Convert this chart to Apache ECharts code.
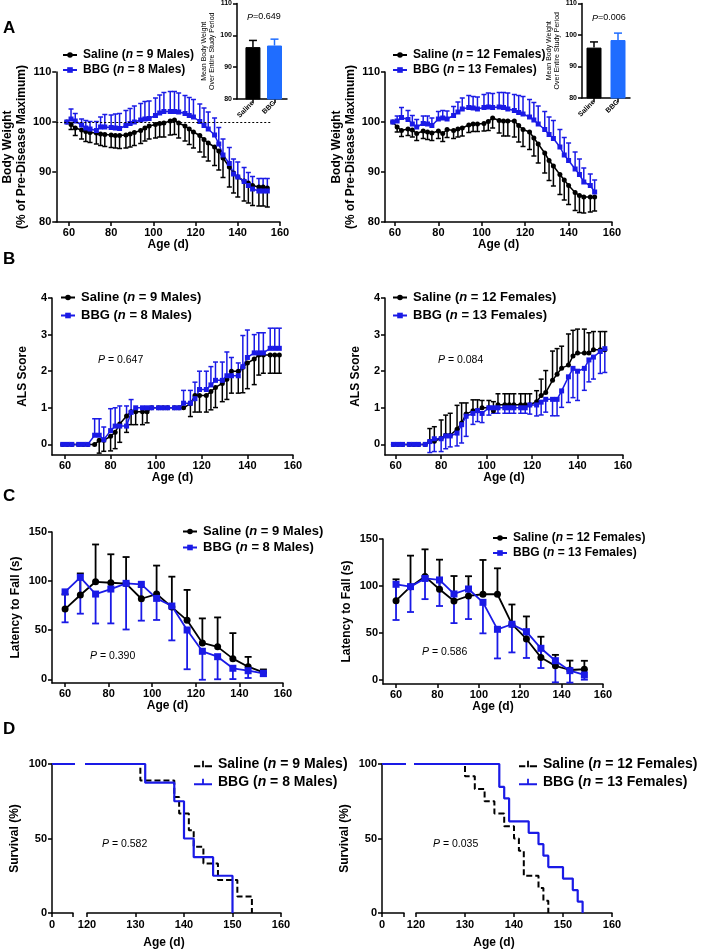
<!DOCTYPE html>
<html>
<head>
<meta charset="utf-8">
<script src="https://cdn.jsdelivr.net/npm/echarts@6/dist/echarts.min.js"></script>
<style>
  html, body { margin: 0; padding: 0; background: #fff; }
  #chart { width: 701px; height: 952px; }
</style>
</head>
<body>
<div id="chart"></div>
<script>
const FONT = '"Liberation Sans", Arial, Helvetica, sans-serif';
const BLACK = '#000000';
const BLUE = '#1a1ae6';
const BAR_BLUE = '#1f6dff';

// ---------- A: body weight (% of pre-disease max) ----------
const bwDaysM = [59,61,63,66,68,70,73,75,77,80,82,84,87,89,91,94,96,98,101,103,105,108,110,112,115,117,119,122,124,126,129,131,133,136,138,140,143,145,147,150,152,154];
const bwSalM = [100,99.5,98.8,98.4,98.1,97.9,97.8,97.6,97.5,97.4,97.3,97.3,97.4,97.6,97.9,98.3,98.8,99.2,99.5,99.7,99.8,100.2,100.4,99.8,99.2,98.6,98,97.3,96.5,95.8,95,94.2,92.8,91,89.8,89,88.2,87.8,87.3,87,87,86.8];
const bwSalMErr = [0,1,1.5,1.8,2,2,2.2,2.3,2.4,2.5,2.5,2.6,2.6,2.6,2.6,2.6,2.6,2.6,2.7,2.7,2.8,2.8,2.9,3,3,3.1,3.2,3.3,3.5,3.6,3.7,3.8,3.9,4,4,4,4,4,4,3.8,3.8,3.8];
const bwBbgM = [100,100.6,100.2,99.4,98.8,98.6,98.3,99,99,98.9,98.8,98.7,99.3,99.7,100,100.4,100.6,100.7,101.3,101.8,102.1,102.1,102.1,102,101.7,101.3,101,100.1,99.3,98.6,97.4,95.6,93.4,91.7,89.6,89,88.1,87.3,86.6,86.2,86.2,86.2];
const bwBbgMErr = [0,2,1.5,1.2,1.5,1.5,1.8,2,2.5,2.5,2.8,3,3,3,3.2,3.3,3.5,3.5,3.5,3.6,3.8,4,4,3.8,3.6,3.6,3.5,3.5,3.5,3.4,3.4,3.3,3.2,3.2,3,3,2.8,2.6,2.5,2.5,2.5,2.5];

const bwDaysF = [59,61,63,66,68,70,73,75,77,80,82,84,87,89,91,94,96,98,101,103,105,108,110,112,115,117,119,122,124,126,129,131,133,136,138,140,143,145,147,150,152];
const bwSalF = [100,99,98.3,98.6,98.4,97.7,98.2,98,97.8,98.2,97.7,98.5,98.3,98.6,98.8,99.4,99.6,99.6,99.7,100.1,100.8,100.3,100.2,100.2,100.2,99.3,98.5,98,96.8,95.6,93.8,92.3,91.2,89.5,88.4,87.3,85.9,85.3,85,85,85];
const bwSalFErr = [0,1,1.2,1.3,1.4,1.4,1.5,1.5,1.5,1.5,1.6,1.6,1.6,1.6,1.6,1.5,1.5,1.5,1.5,1.8,2,2.5,3,3,3.2,3.3,3.4,3.5,3.6,3.8,4,4,4,4,4,3.8,3.6,3.4,3.2,3,2.8];
const bwBbgF = [100,100.2,100.9,100.5,99.6,99,99.7,99.6,99.3,100.6,100.8,100.6,101.3,102,102.6,102.9,102.8,102.6,102.9,103,102.9,103,102.9,102.6,102.3,101.9,101.6,101,100.4,99.6,98.5,97.5,96.7,95,93.4,92.3,90.6,89.5,88,87.3,86];
const bwBbgFErr = [0,1,2,1.8,1.7,1.5,1.5,1.6,1.5,1.5,1.5,1.6,1.8,2,2.2,2.4,2.3,2.4,2.6,2.8,2.8,2.9,3,3.2,3.2,3.4,3.5,3.5,3.5,3.6,3.6,3.5,3.6,3.5,3.5,3.5,3.4,3.1,2.8,2.3,2.4];
const refLevel = 100;
const refSpan = [54, 156];

// inset: mean body weight over entire study period
const insetCats = ['Saline', 'BBG'];
const insetMeanM = [96.3, 96.8];
const insetErrM = [2.1, 2.0];
const insetMeanF = [96.0, 98.4];
const insetErrF = [1.8, 2.2];

// ---------- B: ALS score ----------
const alsSalM = [0,0,0,0,0,0,0,0.111,0.111,0.222,0.333,0.556,0.778,0.889,0.889,0.889,0.889,1,1,1,1,1,1,1,1.111,1.333,1.333,1.333,1.444,1.556,1.667,1.778,2,2,2.111,2.222,2.333,2.444,2.444,2.444,2.444,2.444];
const alsSalMErr = [0,0,0,0,0,0,0,0.35,0.3,0.4,0.45,0.5,0.45,0.35,0.35,0.35,0.3,0,0,0,0,0,0,0,0.35,0.45,0.45,0.45,0.5,0.55,0.5,0.55,0.6,0.6,0.7,0.7,0.7,0.55,0.5,0.5,0.5,0.5];
const alsBbgM = [0,0,0,0,0,0,0.25,0.25,0.125,0.375,0.5,0.5,0.5,0.875,1,1,1,1,1,1,1,1,1,1.125,1.125,1.25,1.5,1.5,1.625,1.75,1.75,1.875,1.875,1.875,2.125,2.375,2.5,2.5,2.5,2.625,2.625,2.625];
const alsBbgMErr = [0,0,0,0,0,0,0.45,0.45,0.35,0.6,0.5,0.55,0.55,0.35,0,0,0,0,0,0,0,0,0,0.35,0.35,0.45,0.5,0.5,0.5,0.5,0.5,0.65,0.5,0.35,0.85,0.75,0.5,0.55,0.55,0.55,0.55,0.55];
const alsSalF = [0,0,0,0,0,0,0,0.083,0.083,0.167,0.25,0.25,0.417,0.583,0.833,0.917,0.917,1,1,0.917,1.083,1.083,1.083,1.083,1.083,1.083,1.083,1.167,1.333,1.417,1.75,1.917,2.083,2.167,2.417,2.5,2.5,2.5,2.583,2.583,2.583];
const alsSalFErr = [0,0,0,0,0,0,0,0.35,0.4,0.5,0.55,0.6,0.65,0.55,0.3,0.3,0.3,0.2,0.2,0.25,0.3,0.3,0.3,0.3,0.3,0.3,0.3,0.3,0.45,0.6,0.8,0.7,0.6,0.85,0.7,0.65,0.65,0.55,0.5,0.5,0.5];
const alsBbgF = [0,0,0,0,0,0,0,0.077,0.154,0.154,0.231,0.231,0.308,0.538,0.769,0.846,0.923,0.846,1,1,1,1,1,1,1,1,1.077,1.077,1.154,1.231,1.231,1.231,1.462,1.846,2.077,2,2.077,2.308,2.385,2.538,2.615];
const alsBbgFErr = [0,0,0,0,0,0,0,0.3,0.35,0.35,0.35,0.3,0.35,0.5,0.55,0.3,0.3,0.25,0.2,0.15,0.15,0.15,0.15,0.15,0.15,0.15,0.25,0.3,0.35,0.35,0.45,0.45,0.45,0.7,0.8,0.8,0.6,0.6,0.6,0.6,0.65];

// ---------- C: rotarod latency to fall ----------
const rrDays = [60,67,74,81,88,95,102,109,116,123,130,137,144,151];
const rrSalM = [71.5,85.8,99.3,98.3,97.5,82,86.8,73.5,60,37,33,21,12.8,7];
const rrSalMErr = [15,22,38,29,27,12,29,31,31,25,30,26,10,3];
const rrBbgM = [89,103.8,86.8,91.9,97.7,96.7,82.4,74.6,50.2,28.5,23,11.2,8.7,6.1];
const rrBbgMErr = [31,37,30,35,47,37,22,35,40,29,23,11,7.4,3];
const rrSalF = [84.4,99.3,110,96.5,84,89.4,91.2,91.2,59.3,43.6,24,15,10.6,11.4];
const rrSalFErr = [22.7,33,29,31.5,26.6,21,36.5,27.6,21,24,22,11.7,10,9];
const rrBbgF = [101.8,99.3,108,106.4,91.5,96.8,82.6,53.9,59.3,51.4,33.7,20.5,9.9,5.3];
const rrBbgFErr = [38,27,22,27.7,31,32,33,31,30,28,21,23,12.7,5];

// ---------- D: survival ----------
const survSalMDays = [0,131,138,139,141,142,144,147,151,154];
const survSalMPct = [100,88.9,77.8,66.7,55.6,44.4,33.3,22.2,11.1,0];
const survBbgMDays = [0,132,138,140,142,146,150];
const survBbgMPct = [100,87.5,75,50,37.5,25,0];
const survSalFDays = [0,130,132,134,136,138,140,141,142,145,146,147];
const survSalFPct = [100,91.7,83.3,75,66.7,58.3,50,41.7,25,16.7,8.3,0];
const survBbgFDays = [0,137,138,139,143,145,146,147,150,152,153,154];
const survBbgFPct = [100,84.6,76.9,61.5,53.8,46.2,38.5,30.8,23.1,15.4,7.7,0];

const legendText = {
  'sal m': 'Saline ({i|n} = 9 Males)',
  'bbg m': 'BBG ({i|n} = 8 Males)',
  'sal f': 'Saline ({i|n} = 12 Females)',
  'bbg f': 'BBG ({i|n} = 13 Females)'
};
// survival legend keys: dashed / solid line with a censor tick
const ICON_DASH_TICK = 'path://M0,7h7v2h-7z M12,7h8v2h-8z M9,2h2v7h-2z';
const ICON_SOLID_TICK = 'path://M0,7h20v2h-20z M9,2h2v7h-2z';

// ---------- helpers ----------
const pairs = (xs, ys) => xs.map((x, i) => [x, ys[i]]);
const triples = (xs, ys, es) => xs.map((x, i) => [x, ys[i], es[i]]);

function xAxisCfg(gridIndex, min, max, ticks, labels, o) {
  o = o || {};
  return {
    type: 'value', gridIndex, min, max,
    axisLine: { onZero: false, lineStyle: { color: BLACK, width: 1.5 } },
    axisTick: { length: 4, customValues: ticks, lineStyle: { color: BLACK, width: 1.5 } },
    axisLabel: { customValues: labels, margin: o.margin || 5, color: BLACK, fontFamily: FONT,
      fontWeight: 'bold', fontSize: o.fs || 11, rotate: o.rotate || 0, formatter: o.fmt },
    splitLine: { show: false },
    name: o.name || '', nameLocation: 'middle', nameGap: o.nameGap || 17,
    nameTextStyle: { color: BLACK, fontFamily: FONT, fontWeight: 'bold', fontSize: 12 }
  };
}
function yAxisCfg(gridIndex, min, max, ticks, o) {
  o = o || {};
  return {
    type: 'value', gridIndex, min, max, show: o.show !== false,
    axisLine: { onZero: false, lineStyle: { color: BLACK, width: 1.5 } },
    axisTick: { length: 4, customValues: ticks, lineStyle: { color: BLACK, width: 1.5 } },
    axisLabel: { customValues: ticks, margin: 5, color: BLACK, fontFamily: FONT,
      fontWeight: 'bold', fontSize: o.fs || 11 },
    splitLine: { show: false },
    name: o.name || '', nameLocation: 'middle', nameGap: o.nameGap || 24,
    nameTextStyle: { color: BLACK, fontFamily: FONT, fontWeight: o.nameWeight || 'bold',
      fontSize: o.nameSize || 12, lineHeight: o.nameLine || 14 }
  };
}
function lineSeries(name, ai, data, color, symbol, size, width) {
  return { type: 'line', name, xAxisIndex: ai, yAxisIndex: ai, data, symbol, symbolSize: size,
    itemStyle: { color }, lineStyle: { color, width }, animation: false, silent: true };
}
function errSeries(ai, data, color, dir, cap, width) {
  return {
    type: 'custom', xAxisIndex: ai, yAxisIndex: ai, data, silent: true, animation: false,
    encode: { x: 0, y: 1 },
    renderItem(params, api) {
      const e = api.value(2);
      if (!e) return null;
      const x = api.value(0), y = api.value(1);
      const p0 = api.coord([x, y]);
      const p1 = api.coord([x, y + dir * e]);
      const st = { stroke: color, lineWidth: width };
      return { type: 'group', children: [
        { type: 'line', shape: { x1: p0[0], y1: p0[1], x2: p1[0], y2: p1[1] }, style: st },
        { type: 'line', shape: { x1: p1[0] - cap / 2, y1: p1[1], x2: p1[0] + cap / 2, y2: p1[1] }, style: st }
      ] };
    }
  };
}
function stepSeries(name, ai, data, color, dashed, width) {
  return { type: 'line', name, xAxisIndex: ai, yAxisIndex: ai, data, step: 'end', symbol: 'none',
    itemStyle: { color }, lineStyle: { color, width, type: dashed ? [6, 3] : 'solid' },
    animation: false, silent: true, clip: true };
}
function legendCfg(names, left, top, fs, gap, icons) {
  return {
    orient: 'vertical', left, top, padding: 0, itemGap: gap,
    itemWidth: icons ? 18 : 14, itemHeight: icons ? 9 : 7,
    data: names.map((n, i) => icons ? { name: n, icon: icons[i] } : n), selectedMode: false,
    formatter: n => legendText[n.split('|')[1]],
    textStyle: { color: BLACK, fontFamily: FONT, fontWeight: 'bold', fontSize: fs, padding: [0, 0, 0, 1],
      rich: { i: { fontStyle: 'italic', fontWeight: 'bold', fontSize: fs, fontFamily: FONT, color: BLACK } } }
  };
}
function text(x, y, str, o) {
  o = o || {};
  return { type: 'text', x, y, silent: true, style: {
    text: str, fill: BLACK, fontFamily: FONT, fontSize: o.fs || 10.5, fontWeight: o.fw || 'normal',
    align: o.align || 'left', verticalAlign: 'middle',
    rich: { i: { fontStyle: 'italic', fontFamily: FONT, fontSize: o.fs || 10.5, fill: BLACK } } } };
}

// ---------- layout ----------
const grids = [
  { left: 52, top: 72, width: 228, height: 150 },   // 0 A left
  { left: 385, top: 72, width: 227, height: 150 },  // 1 A right
  { left: 237, top: 3, width: 50, height: 96 },     // 2 inset left
  { left: 582, top: 3, width: 48, height: 95 },     // 3 inset right
  { left: 52, top: 298, width: 241, height: 157 },  // 4 B left
  { left: 385, top: 298, width: 238, height: 157 }, // 5 B right
  { left: 52, top: 532, width: 231, height: 151 },  // 6 C left
  { left: 383, top: 539, width: 220, height: 145 }, // 7 C right
  { left: 52, top: 764, width: 21, height: 149 },   // 8 D left (0)
  { left: 87, top: 764, width: 194, height: 149 },  // 9 D left (120-160)
  { left: 382, top: 764, width: 22, height: 149 },  // 10 D right (0)
  { left: 416, top: 764, width: 196, height: 149 }  // 11 D right (120-160)
];

const ageTicks = [60, 80, 100, 120, 140, 160];
const survTicks = [120, 130, 140, 150, 160];
const bwName = 'Body Weight\n(% of Pre-Disease Maximum)';
const insetName = 'Mean Body Weight\nOver Entire Study Period';
const insetFmt = v => insetCats[Math.round(v) - 1];

const xAxes = [
  xAxisCfg(0, 54, 160, ageTicks, ageTicks, { name: 'Age (d)' }),
  xAxisCfg(1, 55.4, 160, ageTicks, ageTicks, { name: 'Age (d)' }),
  xAxisCfg(2, 0.26, 2.58, [1, 2], [1, 2], { fs: 7, rotate: 45, fmt: insetFmt, margin: 3 }),
  xAxisCfg(3, 0.5, 2.5, [1, 2], [1, 2], { fs: 7, rotate: 45, fmt: insetFmt, margin: 3 }),
  xAxisCfg(4, 54.3, 160, ageTicks, ageTicks, { name: 'Age (d)' }),
  xAxisCfg(5, 55.3, 160, ageTicks, ageTicks, { name: 'Age (d)' }),
  xAxisCfg(6, 54, 160, ageTicks, ageTicks, { name: 'Age (d)' }),
  xAxisCfg(7, 53.7, 160, ageTicks, ageTicks, { name: 'Age (d)' }),
  xAxisCfg(8, 0, 1, [0, 1], [0], { margin: 6 }),
  xAxisCfg(9, 120, 160, survTicks, survTicks, { margin: 6 }),
  xAxisCfg(10, 0, 1, [0, 1], [0], { margin: 6 }),
  xAxisCfg(11, 120, 160, survTicks, survTicks, { margin: 6 })
];
const bwTicks = [80, 90, 100, 110];
const alsTicks = [0, 1, 2, 3, 4];
const rrTicks = [0, 50, 100, 150];
const survY = [0, 50, 100];
const yAxes = [
  yAxisCfg(0, 80, 110, bwTicks, { name: bwName, nameGap: 24 }),
  yAxisCfg(1, 80, 110, bwTicks, { name: bwName, nameGap: 24 }),
  yAxisCfg(2, 80, 110, bwTicks, { name: insetName, nameGap: 16, fs: 7, nameSize: 7, nameWeight: 'normal', nameLine: 8 }),
  yAxisCfg(3, 80, 110, bwTicks, { name: insetName, nameGap: 16, fs: 7, nameSize: 7, nameWeight: 'normal', nameLine: 8 }),
  yAxisCfg(4, -0.29, 4, alsTicks, { name: 'ALS Score', nameGap: 22 }),
  yAxisCfg(5, -0.29, 4, alsTicks, { name: 'ALS Score', nameGap: 22 }),
  yAxisCfg(6, -3.8, 150, rrTicks, { name: 'Latency to Fall (s)', nameGap: 29 }),
  yAxisCfg(7, -4.3, 150, rrTicks, { name: 'Latency to Fall (s)', nameGap: 29 }),
  yAxisCfg(8, 0, 100, survY, { name: 'Survival (%)', nameGap: 30 }),
  yAxisCfg(9, 0, 100, survY, { show: false }),
  yAxisCfg(10, 0, 100, survY, { name: 'Survival (%)', nameGap: 30 }),
  yAxisCfg(11, 0, 100, survY, { show: false })
];

const refLine = {
  silent: true, symbol: ['none', 'none'], label: { show: false },
  lineStyle: { color: BLACK, width: 1, type: [2, 2] },
  data: [[{ coord: [refSpan[0], refLevel] }, { coord: [refSpan[1], refLevel] }]]
};

function insetBars(ai, means, errs) {
  const bar = {
    type: 'bar', xAxisIndex: ai, yAxisIndex: ai, barWidth: 15, animation: false, silent: true,
    data: insetCats.map((c, i) => ({ value: [i + 1, means[i]],
      itemStyle: { color: i ? BAR_BLUE : BLACK, borderColor: i ? BAR_BLUE : BLACK, borderWidth: 1 } }))
  };
  const eb = insetCats.map((c, i) => [i + 1, means[i], errs[i]]);
  return [bar,
    errSeries(ai, eb.slice(0, 1), BLACK, 1, 8, 1.5),
    errSeries(ai, eb.slice(1), BAR_BLUE, 1, 8, 1.5)];
}

const salMLine = lineSeries('A|sal m', 0, pairs(bwDaysM, bwSalM), BLACK, 'circle', 5, 1.5);
salMLine.markLine = refLine;
const salFLine = lineSeries('A2|sal f', 1, pairs(bwDaysF, bwSalF), BLACK, 'circle', 5, 1.5);
salFLine.markLine = refLine;

const series = [
  // A left
  errSeries(0, triples(bwDaysM, bwSalM, bwSalMErr), BLACK, -1, 5, 1.5),
  salMLine,
  errSeries(0, triples(bwDaysM, bwBbgM, bwBbgMErr), BLUE, 1, 5, 1.5),
  lineSeries('A|bbg m', 0, pairs(bwDaysM, bwBbgM), BLUE, 'rect', 5, 1.5),
  // A right
  errSeries(1, triples(bwDaysF, bwSalF, bwSalFErr), BLACK, -1, 5, 1.5),
  salFLine,
  errSeries(1, triples(bwDaysF, bwBbgF, bwBbgFErr), BLUE, 1, 5, 1.5),
  lineSeries('A2|bbg f', 1, pairs(bwDaysF, bwBbgF), BLUE, 'rect', 5, 1.5),
  // insets
  ...insetBars(2, insetMeanM, insetErrM),
  ...insetBars(3, insetMeanF, insetErrF),
  // B left
  errSeries(4, triples(bwDaysM, alsSalM, alsSalMErr), BLACK, -1, 5, 1.5),
  lineSeries('B|sal m', 4, pairs(bwDaysM, alsSalM), BLACK, 'circle', 5, 1.5),
  errSeries(4, triples(bwDaysM, alsBbgM, alsBbgMErr), BLUE, 1, 5, 1.5),
  lineSeries('B|bbg m', 4, pairs(bwDaysM, alsBbgM), BLUE, 'rect', 5, 1.5),
  // B right
  errSeries(5, triples(bwDaysF, alsSalF, alsSalFErr), BLACK, 1, 5, 1.5),
  lineSeries('B2|sal f', 5, pairs(bwDaysF, alsSalF), BLACK, 'circle', 5, 1.5),
  errSeries(5, triples(bwDaysF, alsBbgF, alsBbgFErr), BLUE, -1, 5, 1.5),
  lineSeries('B2|bbg f', 5, pairs(bwDaysF, alsBbgF), BLUE, 'rect', 5, 1.5),
  // C left
  errSeries(6, triples(rrDays, rrSalM, rrSalMErr), BLACK, 1, 7, 1.8),
  lineSeries('C|sal m', 6, pairs(rrDays, rrSalM), BLACK, 'circle', 7, 1.8),
  errSeries(6, triples(rrDays, rrBbgM, rrBbgMErr), BLUE, -1, 7, 1.8),
  lineSeries('C|bbg m', 6, pairs(rrDays, rrBbgM), BLUE, 'rect', 7, 1.8),
  // C right
  errSeries(7, triples(rrDays, rrSalF, rrSalFErr), BLACK, 1, 7, 1.8),
  lineSeries('C2|sal f', 7, pairs(rrDays, rrSalF), BLACK, 'circle', 7, 1.8),
  errSeries(7, triples(rrDays, rrBbgF, rrBbgFErr), BLUE, -1, 7, 1.8),
  lineSeries('C2|bbg f', 7, pairs(rrDays, rrBbgF), BLUE, 'rect', 7, 1.8),
  // D left
  stepSeries('D|sal m', 8, pairs(survSalMDays, survSalMPct), BLACK, true, 2),
  stepSeries('D|sal m', 9, pairs(survSalMDays, survSalMPct), BLACK, true, 2),
  stepSeries('D|bbg m', 8, pairs(survBbgMDays, survBbgMPct), BLUE, false, 2.2),
  stepSeries('D|bbg m', 9, pairs(survBbgMDays, survBbgMPct), BLUE, false, 2.2),
  // D right
  stepSeries('D2|sal f', 10, pairs(survSalFDays, survSalFPct), BLACK, true, 2),
  stepSeries('D2|sal f', 11, pairs(survSalFDays, survSalFPct), BLACK, true, 2),
  stepSeries('D2|bbg f', 10, pairs(survBbgFDays, survBbgFPct), BLUE, false, 2.2),
  stepSeries('D2|bbg f', 11, pairs(survBbgFDays, survBbgFPct), BLUE, false, 2.2)
];

const legends = [
  legendCfg(['A|sal m', 'A|bbg m'], 62, 49, 12, 3),
  legendCfg(['A2|sal f', 'A2|bbg f'], 392, 49, 12, 3),
  legendCfg(['B|sal m', 'B|bbg m'], 60, 291, 13, 5),
  legendCfg(['B2|sal f', 'B2|bbg f'], 392, 291, 13, 5),
  legendCfg(['C|sal m', 'C|bbg m'], 182, 525, 13, 3),
  legendCfg(['C2|sal f', 'C2|bbg f'], 492, 532, 12, 3),
  legendCfg(['D|sal m', 'D|bbg m'], 194, 757, 14, 4, [ICON_DASH_TICK, ICON_SOLID_TICK]),
  legendCfg(['D2|sal f', 'D2|bbg f'], 519, 757, 14, 4, [ICON_DASH_TICK, ICON_SOLID_TICK])
];

const graphics = [
  text(3, 28, 'A', { fs: 17, fw: 'bold' }),
  text(3, 259, 'B', { fs: 17, fw: 'bold' }),
  text(3, 496, 'C', { fs: 17, fw: 'bold' }),
  text(3, 729, 'D', { fs: 17, fw: 'bold' }),
  text(247, 17, '{i|P}=0.649', { fs: 9 }),
  text(592, 18, '{i|P}=0.006', { fs: 9 }),
  text(98, 360, '{i|P} = 0.647'),
  text(438, 360, '{i|P} = 0.084'),
  text(90, 656, '{i|P} = 0.390'),
  text(422, 652, '{i|P} = 0.586'),
  text(102, 844, '{i|P} = 0.582'),
  text(433, 844, '{i|P} = 0.035'),
  text(164, 943, 'Age (d)', { fs: 12, fw: 'bold', align: 'center' }),
  text(494, 943, 'Age (d)', { fs: 12, fw: 'bold', align: 'center' })
];

const chart = echarts.init(document.getElementById('chart'));
chart.setOption({
  backgroundColor: '#ffffff',
  animation: false,
  grid: grids,
  xAxis: xAxes,
  yAxis: yAxes,
  legend: legends,
  series,
  graphic: graphics
});
</script>
</body>
</html>
